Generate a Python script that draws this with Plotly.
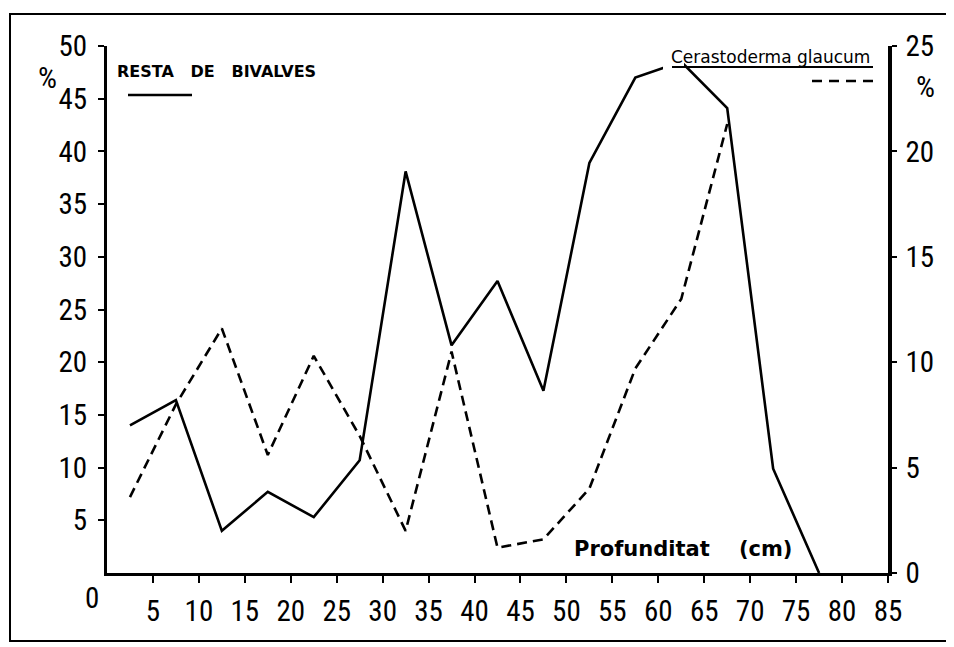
import plotly.graph_objects as go

# Data
depth_resta = [2.5, 7.5, 12.5, 17.5, 22.5, 27.5, 32.5, 37.5, 42.5, 47.5, 52.5, 57.5, 62.5, 67.5, 72.5, 77.5]
resta_bivalves = [14.0, 16.4, 4.0, 7.7, 5.3, 10.7, 38.1, 21.6, 27.7, 17.3, 38.9, 47.0, 48.5, 44.1, 9.9, 0.0]

depth_cerasto = [2.5, 7.5, 12.5, 17.5, 22.5, 27.5, 32.5, 37.5, 42.5, 47.5, 52.5, 57.5, 62.5, 67.5]
cerastoderma = [3.6, 8.0, 11.6, 5.6, 10.3, 6.5, 2.0, 10.5, 1.2, 1.6, 4.0, 9.7, 13.0, 21.3]

x_ticks = [5, 10, 15, 20, 25, 30, 35, 40, 45, 50, 55, 60, 65, 70, 75, 80, 85]
left_ticks = [5, 10, 15, 20, 25, 30, 35, 40, 45, 50]
right_ticks = [0, 5, 10, 15, 20, 25]

NARROW = "Roboto Condensed, DejaVu Sans Condensed, sans-serif"
TICKFONT = dict(family=NARROW, size=29, color="black")

# plot area in window pixels: x 107..888, y 46..573 ; page has an 8px body margin
OFF = 8

fig = go.Figure()
fig.add_trace(go.Scatter(x=depth_resta, y=resta_bivalves, mode="lines",
                         line=dict(color="black", width=2.6), yaxis="y",
                         showlegend=False))
fig.add_trace(go.Scatter(x=depth_cerasto, y=cerastoderma, mode="lines",
                         line=dict(color="black", width=2.6, dash="10px,6px"),
                         yaxis="y2", showlegend=False))

fig.update_layout(
    width=946, height=639,
    margin=dict(l=107 - OFF, r=946 - (888 - OFF), t=46 - OFF, b=639 - (573 - OFF)),
    paper_bgcolor="white", plot_bgcolor="white",
    xaxis=dict(range=[0, 85], tickvals=x_ticks, ticktext=[str(v) for v in x_ticks],
               showline=True, linecolor="black", linewidth=3,
               ticks="outside", ticklen=7, tickwidth=2, tickcolor="black",
               ticklabelstandoff=3,
               showgrid=False, zeroline=False, tickfont=TICKFONT),
    yaxis=dict(range=[0, 50], tickvals=left_ticks, ticktext=[str(v) for v in left_ticks],
               showline=True, linecolor="black", linewidth=3,
               ticks="outside", ticklen=6, tickwidth=2, tickcolor="black",
               ticklabelstandoff=5,
               showgrid=False, zeroline=False, tickfont=TICKFONT),
    yaxis2=dict(range=[0, 25], tickvals=right_ticks, ticktext=[str(v) for v in right_ticks],
                overlaying="y", side="right",
                showline=True, linecolor="black", linewidth=3.5,
                ticks="outside", ticklen=5, tickwidth=2, tickcolor="black",
                ticklabelstandoff=3,
                showgrid=False, zeroline=False, tickfont=TICKFONT),
)

def px(x):
    return (x - 107) / 781

def py(y):
    return (573 - y) / 527

shapes = [
    dict(type="rect", xref="paper", yref="paper",
         x0=px(10), x1=px(947), y0=py(641), y1=py(14),
         line=dict(color="black", width=2), layer="below"),
    dict(type="rect", xref="paper", yref="paper",
         x0=px(663), x1=px(684), y0=py(72), y1=py(52),
         fillcolor="white", line=dict(width=0), layer="above"),
    dict(type="line", xref="paper", yref="paper",
         x0=px(672), x1=px(873), y0=py(67), y1=py(67),
         line=dict(color="black", width=2), layer="above"),
    dict(type="line", xref="paper", yref="paper",
         x0=px(128), x1=px(192), y0=py(95), y1=py(95),
         line=dict(color="black", width=2.5), layer="above"),
    dict(type="line", xref="paper", yref="paper",
         x0=px(812), x1=px(876), y0=py(81), y1=py(81),
         line=dict(color="black", width=2.5, dash="10px,7px"), layer="above"),
]
fig.update_layout(shapes=shapes)

annotations = [
    dict(text="RESTA   DE   BIVALVES", x=px(115), y=py(72), xanchor="left", yanchor="middle",
         font=dict(family="DejaVu Sans", size=16, color="black", weight="bold")),
    dict(text="Cerastoderma glaucum", x=px(770), y=py(57), xanchor="center", yanchor="middle",
         font=dict(family="DejaVu Sans", size=17, color="black")),
    dict(text="Profunditat    (cm)", x=px(572), y=py(549), xanchor="left", yanchor="middle",
         font=dict(family="DejaVu Sans", size=21, color="black", weight="bold")),
    dict(text="0", x=px(92), y=py(598), xanchor="center", yanchor="middle", font=TICKFONT),
    dict(text="%", x=px(48), y=py(78), xanchor="center", yanchor="middle",
         font=dict(family=NARROW, size=30, color="black")),
    dict(text="%", x=px(925), y=py(86), xanchor="center", yanchor="middle",
         font=dict(family=NARROW, size=30, color="black")),
]
for a in annotations:
    a.update(xref="paper", yref="paper", showarrow=False)
fig.update_layout(annotations=annotations)

fig.write_html("out.html")
